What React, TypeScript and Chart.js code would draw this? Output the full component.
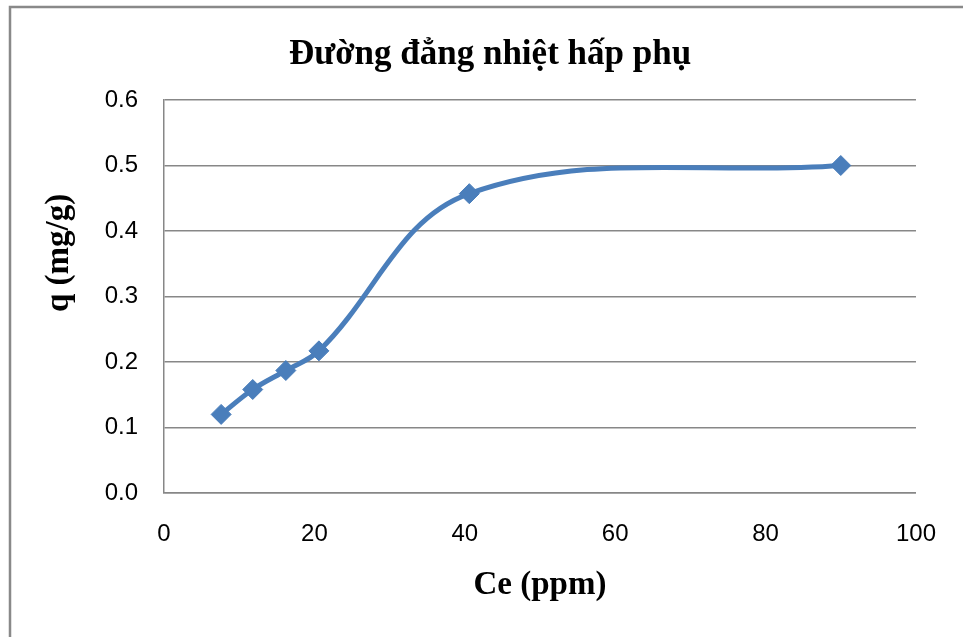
import React, { useEffect, useRef } from 'react';
import { Chart, registerables } from 'chart.js';

Chart.register(...registerables);

const chartTitle = 'Đường đẳng nhiệt hấp phụ';
const xAxisTitle = 'Ce (ppm)';
const yAxisTitle = 'q (mg/g)';
const ceValues = [7.6, 11.8, 16.2, 20.6, 40.6, 90];
const qValues = [0.12, 0.158, 0.187, 0.217, 0.457, 0.5];
const xTickValues = [0, 20, 40, 60, 80, 100];
const yTickValues = [0, 0.1, 0.2, 0.3, 0.4, 0.5, 0.6];

const W = 963;
const H = 637;
const LINE_COLOR = '#4A7EBB';
const GRID_COLOR = '#878787';

const decorPlugin = {
  id: 'decor',
  beforeDraw(chart: any) {
    const ctx = chart.ctx;
    ctx.save();
    ctx.fillStyle = '#ffffff';
    ctx.fillRect(0, 0, chart.width, chart.height);
    ctx.strokeStyle = '#898989';
    ctx.lineWidth = 2.5;
    ctx.strokeRect(10, 7, 1200, 1200);
    ctx.restore();
  },
  afterDraw(chart: any) {
    const ctx = chart.ctx;
    ctx.save();
    ctx.fillStyle = '#000000';
    ctx.font = 'bold 35px "Liberation Serif", "Times New Roman", serif';
    ctx.textAlign = 'center';
    ctx.textBaseline = 'alphabetic';
    ctx.fillText(chartTitle, 490, 64);
    ctx.translate(68, 253);
    ctx.rotate(-Math.PI / 2);
    ctx.font = 'bold 33px "Liberation Serif", "Times New Roman", serif';
    ctx.fillText(yAxisTitle, 0, 0);
    ctx.restore();
  },
};

export default function App() {
  const ref = useRef<HTMLCanvasElement | null>(null);

  useEffect(() => {
    if (!ref.current) return;
    const chart = new Chart(ref.current, {
      type: 'line',
      data: {
        datasets: [
          {
            label: 'q',
            data: ceValues.map((x, i) => ({ x, y: qValues[i] })),
            borderColor: LINE_COLOR,
            backgroundColor: LINE_COLOR,
            borderWidth: 5,
            pointStyle: 'rectRot',
            pointRadius: 10,
            pointHoverRadius: 10,
            pointBorderWidth: 1,
            pointBackgroundColor: LINE_COLOR,
            pointBorderColor: LINE_COLOR,
            tension: 0.37,
            fill: false,
            clip: false as any,
          },
        ],
      },
      options: {
        responsive: false,
        animation: false,
        devicePixelRatio: 1,
        layout: { padding: { left: 0, top: 100, right: 45, bottom: 0 } },
        plugins: {
          legend: { display: false },
          title: { display: false },
          tooltip: { enabled: false },
        },
        scales: {
          x: {
            type: 'linear',
            min: 0,
            max: 100,
            afterFit: (s: any) => {
              s.height = 144;
            },
            afterBuildTicks: (s: any) => {
              s.ticks = xTickValues.map((v) => ({ value: v }));
            },
            ticks: {
              font: { family: '"Liberation Sans", Arial, sans-serif', size: 24 },
              color: '#000000',
              padding: 27,
              maxRotation: 0,
              autoSkip: false,
            },
            grid: { display: false, drawTicks: false },
            border: { display: true, color: GRID_COLOR, width: 1.5 },
            title: {
              display: true,
              text: xAxisTitle,
              color: '#000000',
              font: { family: '"Liberation Serif", "Times New Roman", serif', size: 33, weight: 'bold', lineHeight: 1 },
              padding: { top: 0, bottom: 35 },
            },
          },
          y: {
            type: 'linear',
            min: 0,
            max: 0.6,
            afterFit: (s: any) => {
              s.width = 164;
            },
            afterBuildTicks: (s: any) => {
              s.ticks = yTickValues.map((v) => ({ value: v }));
            },
            ticks: {
              font: { family: '"Liberation Sans", Arial, sans-serif', size: 24 },
              color: '#000000',
              padding: 26,
              autoSkip: false,
              callback: (v: any) => Number(v).toFixed(1),
            },
            grid: { display: true, color: GRID_COLOR, lineWidth: 1.5, drawTicks: false },
            border: { display: true, color: GRID_COLOR, width: 1.5 },
            title: { display: false, text: yAxisTitle },
          },
        },
      },
      plugins: [decorPlugin],
    } as any);
    return () => chart.destroy();
  }, []);

  return (
    <div style={{ position: 'fixed', left: 0, top: 0, width: W, height: H, background: '#fff' }}>
      <canvas ref={ref} width={W} height={H} style={{ display: 'block', width: W, height: H }} />
    </div>
  );
}
